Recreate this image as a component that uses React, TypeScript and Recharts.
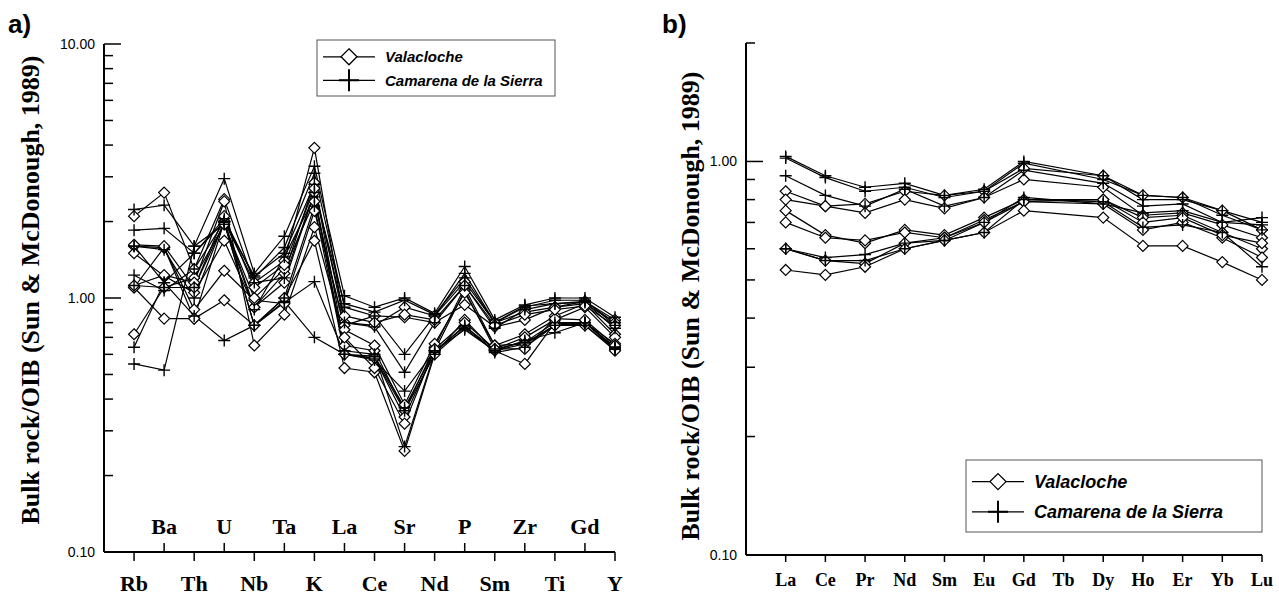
import React from 'react';
import { LineChart, Line, XAxis, YAxis } from 'recharts';

/* ============================================
   OIB-NORMALISED SPIDER DIAGRAMS
   a) multi-element, b) REE
   ============================================ */

const elementsA = ['Rb', 'Ba', 'Th', 'U', 'Nb', 'Ta', 'K', 'La', 'Ce', 'Sr', 'Nd', 'P', 'Sm', 'Zr', 'Ti', 'Gd', 'Y'];

// Valacloche (diamonds)
const valA1 = [2.1, 2.6, 1.3, 2.45, 1.15, 1.4, 3.9, 0.8, 0.78, 0.92, 0.85, 1.16, 0.8, 0.88, 0.92, 0.97, 0.82];
const valA2 = [1.6, 1.58, 0.83, 2.0, 0.92, 1.25, 2.85, 0.65, 0.62, 0.36, 0.64, 1.1, 0.65, 0.72, 0.85, 0.95, 0.72];
const valA3 = [1.5, 1.22, 1.05, 1.68, 0.92, 1.15, 2.6, 0.6, 0.58, 0.34, 0.62, 1.07, 0.63, 0.7, 0.82, 0.92, 0.7];
const valA4 = [1.1, 1.58, 0.9, 1.28, 0.98, 0.95, 2.2, 0.78, 0.85, 0.84, 0.8, 0.94, 0.77, 0.82, 0.92, 0.95, 0.8];
const valA5 = [1.1, 0.83, 0.83, 0.98, 0.78, 1.0, 1.68, 0.53, 0.51, 0.25, 0.6, 0.82, 0.62, 0.55, 0.8, 0.78, 0.62];
const valA6 = [0.72, 1.1, 1.2, 1.95, 1.0, 1.3, 2.4, 0.75, 0.65, 0.38, 0.66, 1.05, 0.65, 0.66, 0.78, 0.8, 0.66];
const valA7 = [1.12, 1.23, 1.15, 2.4, 0.65, 0.86, 1.9, 0.7, 0.53, 0.32, 0.63, 0.8, 0.63, 0.63, 0.83, 0.82, 0.65];
const valA8 = [1.62, 1.6, 1.1, 2.1, 1.1, 1.35, 2.7, 0.85, 0.8, 0.86, 0.82, 1.12, 0.78, 0.86, 0.9, 0.93, 0.78];

// Camarena de la Sierra (crosses)
const camA1 = [2.23, 2.32, 1.6, 2.95, 1.25, 1.75, 3.3, 1.02, 0.92, 1.0, 0.87, 1.33, 0.82, 0.94, 1.0, 1.0, 0.84];
const camA2 = [1.85, 1.88, 1.5, 2.05, 1.2, 1.58, 3.1, 0.92, 0.85, 0.6, 0.85, 1.25, 0.8, 0.93, 0.95, 0.97, 0.8];
const camA3 = [1.23, 1.07, 1.3, 2.0, 1.22, 1.5, 2.8, 0.8, 0.77, 0.51, 0.8, 1.12, 0.76, 0.9, 0.95, 0.96, 0.76];
const camA4 = [0.64, 1.15, 1.5, 2.0, 0.78, 1.0, 2.3, 0.6, 0.57, 0.43, 0.62, 0.75, 0.62, 0.68, 0.73, 0.8, 0.64];
const camA5 = [0.55, 0.52, 1.6, 1.95, 0.9, 1.45, 2.5, 0.62, 0.6, 0.26, 0.61, 0.78, 0.61, 0.64, 0.78, 0.78, 0.63];
const camA6 = [1.6, 1.15, 0.85, 0.68, 0.78, 0.96, 1.16, 0.6, 0.58, 0.36, 0.6, 0.76, 0.62, 0.66, 0.78, 0.8, 0.63];
const camA7 = [1.12, 1.1, 1.1, 1.98, 0.78, 0.97, 0.7, 0.6, 0.59, 0.37, 0.62, 0.77, 0.63, 0.67, 0.8, 0.8, 0.64];
const camA8 = [1.6, 1.55, 1.0, 2.0, 1.15, 1.2, 2.6, 0.95, 0.88, 0.98, 0.86, 1.2, 0.8, 0.92, 0.98, 0.98, 0.78];

const elementsB = ['La', 'Ce', 'Pr', 'Nd', 'Sm', 'Eu', 'Gd', 'Tb', 'Dy', 'Ho', 'Er', 'Yb', 'Lu'];

const valB1 = [0.84, 0.77, 0.78, 0.84, 0.82, 0.84, 0.96, null, 0.92, 0.82, 0.81, 0.75, 0.67];
const valB2 = [0.8, 0.77, 0.74, 0.8, 0.76, 0.81, 0.9, null, 0.86, 0.73, 0.74, 0.69, 0.64];
const valB3 = [0.75, 0.65, 0.62, 0.67, 0.65, 0.72, 0.8, null, 0.8, 0.72, 0.73, 0.66, 0.6];
const valB4 = [0.7, 0.64, 0.63, 0.66, 0.64, 0.71, 0.79, null, 0.78, 0.67, 0.7, 0.64, 0.57];
const valB5 = [0.6, 0.56, 0.55, 0.62, 0.64, 0.7, 0.79, null, 0.8, 0.7, 0.72, 0.65, 0.62];
const valB6 = [0.53, 0.515, 0.54, 0.6, 0.63, 0.66, 0.75, null, 0.72, 0.61, 0.61, 0.555, 0.5];

const camB1 = [1.03, 0.92, 0.86, 0.88, 0.82, 0.85, 1.0, null, 0.92, 0.8, 0.8, 0.75, 0.7];
const camB2 = [1.02, 0.91, 0.84, 0.86, 0.81, 0.84, 0.99, null, 0.9, 0.82, 0.81, 0.73, 0.67];
const camB3 = [0.92, 0.82, 0.77, 0.85, 0.77, 0.81, 0.95, null, 0.88, 0.77, 0.78, 0.7, 0.69];
const camB4 = [0.6, 0.57, 0.58, 0.62, 0.63, 0.66, 0.8, null, 0.79, 0.68, 0.69, 0.66, 0.54];
const camB5 = [0.6, 0.56, 0.56, 0.6, 0.63, 0.7, 0.81, null, 0.78, 0.74, 0.75, 0.7, 0.72];

const yTicksA = [0.1, 0.2, 0.3, 0.4, 0.5, 0.6, 0.7, 0.8, 0.9, 1, 2, 3, 4, 5, 6, 7, 8, 9, 10];
const yLabelsA = [0.1, 1, 10];
const yTicksB = [0.1, 0.2, 0.3, 0.4, 0.5, 0.6, 0.7, 0.8, 0.9, 1, 2];
const yLabelsB = [0.1, 1];

const valSeriesA = [valA1, valA2, valA3, valA4, valA5, valA6, valA7, valA8];
const camSeriesA = [camA1, camA2, camA3, camA4, camA5, camA6, camA7, camA8];
const valSeriesB = [valB1, valB2, valB3, valB4, valB5, valB6];
const camSeriesB = [camB1, camB2, camB3, camB4, camB5];

const buildRows = (elements: string[], val: (number | null)[][], cam: (number | null)[][]) =>
  elements.map((el, i) => {
    const row: Record<string, any> = { idx: i, el };
    val.forEach((s, k) => (row[`v${k}`] = s[i]));
    cam.forEach((s, k) => (row[`c${k}`] = s[i]));
    return row;
  });

const dataA = buildRows(elementsA, valSeriesA, camSeriesA);
const dataB = buildRows(elementsB, valSeriesB, camSeriesB);

const SERIF = '"Liberation Serif", "Times New Roman", serif';
const SANS = '"Liberation Sans", Arial, sans-serif';

const diamondDot = (r: number) => (props: any) => {
  const { cx, cy, index, dataKey } = props;
  const key = `${dataKey}-${index}`;
  if (cx == null || cy == null) return <g key={key} />;
  return (
    <path
      key={key}
      d={`M${cx},${cy - r}L${cx + r},${cy}L${cx},${cy + r}L${cx - r},${cy}Z`}
      fill="#fff"
      stroke="#000"
      strokeWidth={1.2}
    />
  );
};

const crossDot = (r: number) => (props: any) => {
  const { cx, cy, index, dataKey } = props;
  const key = `${dataKey}-${index}`;
  if (cx == null || cy == null) return <g key={key} />;
  return (
    <path
      key={key}
      d={`M${cx - r},${cy}H${cx + r}M${cx},${cy - r}V${cy + r}`}
      stroke="#000"
      strokeWidth={1.4}
      fill="none"
    />
  );
};

const makeYTick = (labels: number[]) => (props: any) => {
  const { x, y, payload } = props;
  const v = payload.value;
  const major = labels.some((l) => Math.abs(l - v) < 1e-9);
  return (
    <g>
      <line x1={x} x2={x + (major ? 17 : 9)} y1={y} y2={y} stroke="#000" strokeWidth={1.5} />
      {major && (
        <text x={x - 9} y={y} textAnchor="end" dominantBaseline="central" fontFamily={SANS} fontSize={14} fill="#000">
          {v.toFixed(2)}
        </text>
      )}
    </g>
  );
};

// panel a: staggered labels, odd ones below, even ones inside the plot
const XTickA = (props: any) => {
  const { x, y, payload } = props;
  const i = payload.value;
  const down = i % 2 === 0;
  return (
    <g>
      <line x1={x} x2={x} y1={y} y2={down ? y + 9 : y - 9} stroke="#000" strokeWidth={1.5} />
      <text
        x={x}
        y={down ? y + 31 : y - 26}
        textAnchor="middle"
        dominantBaseline="central"
        fontFamily={SERIF}
        fontWeight="bold"
        fontSize={22}
        fill="#000"
      >
        {elementsA[i]}
      </text>
    </g>
  );
};

const XTickB = (props: any) => {
  const { x, y, payload } = props;
  const i = payload.value;
  return (
    <g>
      <line x1={x} x2={x} y1={y} y2={y + 7} stroke="#000" strokeWidth={1.5} />
      <text
        x={x}
        y={y + 25}
        textAnchor="middle"
        dominantBaseline="central"
        fontFamily={SERIF}
        fontWeight="bold"
        fontSize={18}
        fill="#000"
      >
        {elementsB[i]}
      </text>
    </g>
  );
};

const LegendBox = ({ x, y, w, h, fontSize }: { x: number; y: number; w: number; h: number; fontSize: number }) => {
  const r1 = y + h * 0.3;
  const r2 = y + h * 0.72;
  const lx1 = x + 6;
  const lx2 = x + 58;
  const mx = (lx1 + lx2) / 2;
  const tx = x + 68;
  return (
    <g>
      <rect x={x} y={y} width={w} height={h} fill="#fff" stroke="#555" strokeWidth={1} />
      <line x1={lx1} x2={lx2} y1={r1} y2={r1} stroke="#000" strokeWidth={1.2} />
      <path d={`M${mx},${r1 - 8}L${mx + 8},${r1}L${mx},${r1 + 8}L${mx - 8},${r1}Z`} fill="#fff" stroke="#000" strokeWidth={1.3} />
      <text x={tx} y={r1} dominantBaseline="central" fontFamily={SANS} fontStyle="italic" fontWeight="bold" fontSize={fontSize}>
        Valacloche
      </text>
      <line x1={lx1} x2={lx2} y1={r2} y2={r2} stroke="#000" strokeWidth={1.2} />
      <path d={`M${mx - 10},${r2}H${mx + 10}M${mx},${r2 - 11}V${r2 + 11}`} stroke="#000" strokeWidth={2} />
      <text x={tx} y={r2} dominantBaseline="central" fontFamily={SANS} fontStyle="italic" fontWeight="bold" fontSize={fontSize}>
        Camarena de la Sierra
      </text>
    </g>
  );
};

const TITLE = 'Bulk rock/OIB (Sun & McDonough, 1989)';

const App = () => {
  return (
    <div style={{ position: 'absolute', left: 0, top: 0, width: 1279, height: 594, background: '#fff' }}>
      <div style={{ position: 'absolute', left: 0, top: 0 }}>
        <LineChart width={640} height={594} data={dataA} margin={{ top: 44, right: 25, bottom: 0, left: 44 }}>
          <XAxis
            dataKey="idx"
            type="number"
            domain={[-1, elementsA.length - 1]}
            ticks={elementsA.map((_, i) => i)}
            interval={0}
            height={42}
            tickSize={0}
            tickMargin={0}
            tickLine={false}
            axisLine={{ stroke: '#000', strokeWidth: 2 }}
            tick={XTickA}
          />
          <YAxis
            scale="log"
            type="number"
            domain={[0.1, 10]}
            allowDataOverflow
            ticks={yTicksA}
            interval={0}
            width={60}
            tickSize={0}
            tickMargin={0}
            tickLine={false}
            axisLine={{ stroke: '#000', strokeWidth: 2 }}
            tick={makeYTick(yLabelsA)}
          />
          {valSeriesA.map((_, k) => (
            <Line key={`v${k}`} dataKey={`v${k}`} stroke="#000" strokeWidth={1.2} dot={diamondDot(5.5)} activeDot={false} isAnimationActive={false} />
          ))}
          {camSeriesA.map((_, k) => (
            <Line key={`c${k}`} dataKey={`c${k}`} stroke="#000" strokeWidth={1.2} dot={crossDot(6)} activeDot={false} isAnimationActive={false} />
          ))}
        </LineChart>
      </div>
      <div style={{ position: 'absolute', left: 640, top: 0 }}>
        <LineChart width={639} height={594} data={dataB} margin={{ top: 43, right: 17, bottom: 0, left: 46 }}>
          <XAxis
            dataKey="idx"
            type="number"
            domain={[-1, elementsB.length - 1]}
            ticks={elementsB.map((_, i) => i)}
            interval={0}
            height={39}
            tickSize={0}
            tickMargin={0}
            tickLine={false}
            axisLine={{ stroke: '#000', strokeWidth: 2 }}
            tick={XTickB}
          />
          <YAxis
            scale="log"
            type="number"
            domain={[0.1, 2]}
            allowDataOverflow
            ticks={yTicksB}
            interval={0}
            width={60}
            tickSize={0}
            tickMargin={0}
            tickLine={false}
            axisLine={{ stroke: '#000', strokeWidth: 2 }}
            tick={makeYTick(yLabelsB)}
          />
          {valSeriesB.map((_, k) => (
            <Line key={`v${k}`} dataKey={`v${k}`} connectNulls stroke="#000" strokeWidth={1.2} dot={diamondDot(5.5)} activeDot={false} isAnimationActive={false} />
          ))}
          {camSeriesB.map((_, k) => (
            <Line key={`c${k}`} dataKey={`c${k}`} connectNulls stroke="#000" strokeWidth={1.2} dot={crossDot(6)} activeDot={false} isAnimationActive={false} />
          ))}
        </LineChart>
      </div>
      <svg width={1279} height={594} style={{ position: 'absolute', left: 0, top: 0, pointerEvents: 'none' }}>
        <text x={8} y={33} fontFamily={SANS} fontWeight="bold" fontSize={26}>a)</text>
        <text x={662} y={33} fontFamily={SANS} fontWeight="bold" fontSize={26}>b)</text>
        <text
          transform="translate(30, 290) rotate(-90)"
          textAnchor="middle"
          dominantBaseline="central"
          fontFamily={SERIF}
          fontWeight="bold"
          fontSize={26}
        >
          {TITLE}
        </text>
        <text
          transform="translate(690, 306) rotate(-90)"
          textAnchor="middle"
          dominantBaseline="central"
          fontFamily={SERIF}
          fontWeight="bold"
          fontSize={26}
        >
          {TITLE}
        </text>
        <LegendBox x={317} y={40} w={238} h={56} fontSize={15} />
        <LegendBox x={966} y={460} w={296} h={72} fontSize={18} />
      </svg>
    </div>
  );
};

export default App;
